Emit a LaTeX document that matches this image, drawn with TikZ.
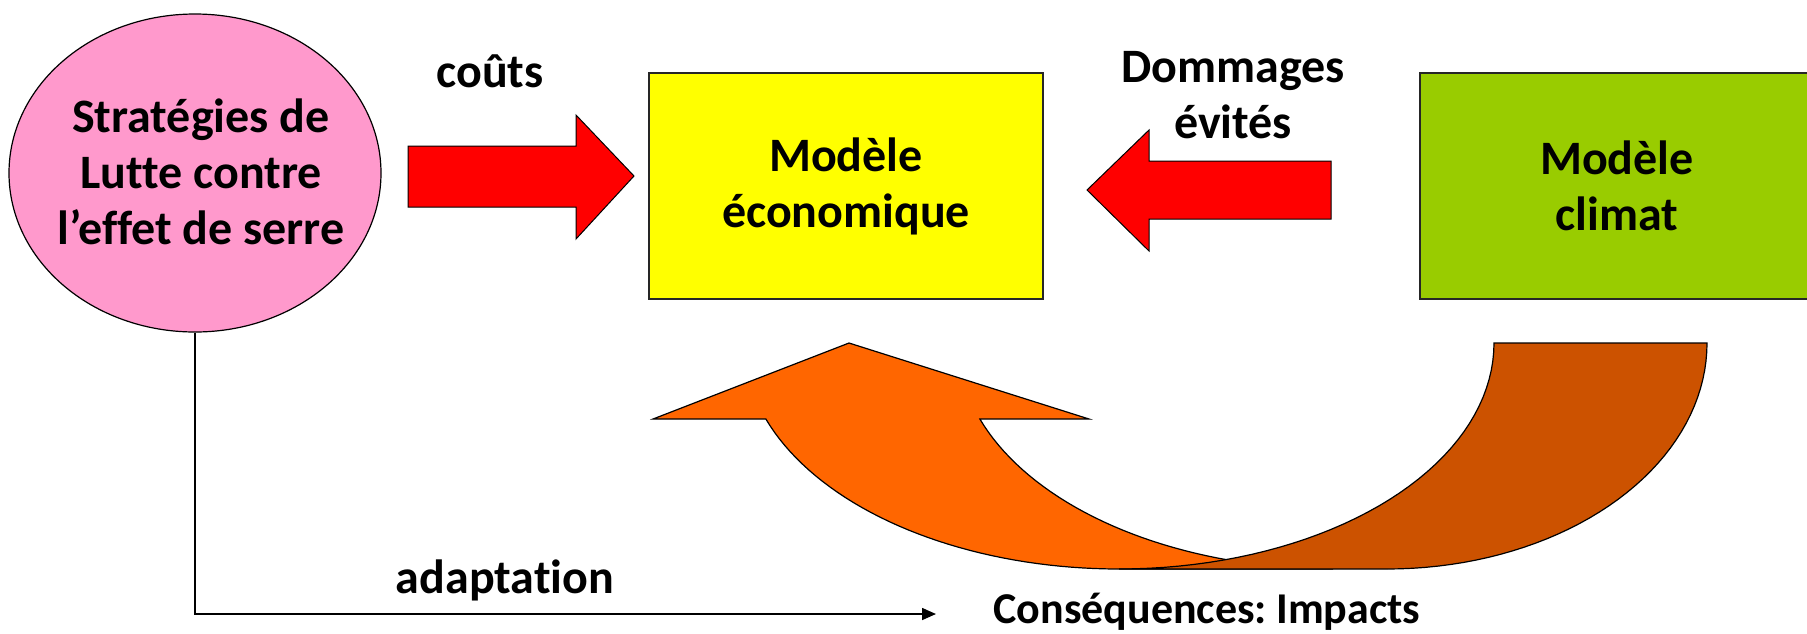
\documentclass[tikz,border=0pt]{standalone}
\usepackage{fontspec}
\setmainfont{Carlito}[Ligatures={NoCommon}]
\usetikzlibrary{shapes.geometric,arrows.meta}
\definecolor{pinkfill}{HTML}{FF99CC}
\definecolor{yellowfill}{HTML}{FFFF00}
\definecolor{greenfill}{HTML}{99CC00}
\definecolor{redfill}{HTML}{FF0000}
\definecolor{orangefront}{HTML}{FF6600}
\definecolor{orangeback}{HTML}{CC5200}
\begin{document}
\begin{tikzpicture}[x=0.5pt,y=-0.5pt,
  txt/.style={font=\bfseries\fontsize{24}{28}\selectfont, align=center, inner sep=0pt},
  modelbox/.style={txt, draw=black!85, line width=0.6pt, minimum width=197pt, minimum height=113pt},
  blockarrow/.style={fill=redfill, draw=black, line width=0.5pt, line join=miter},
  bandfront/.style={fill=orangefront, draw=black, line width=0.6pt, line join=miter},
  bandback/.style={fill=orangeback, draw=black, line width=0.6pt, line join=miter},
  link/.style={draw=black, line width=0.75pt, -{Triangle[length=7pt,width=6pt]}}
]
\useasboundingbox (0,0) rectangle (1807,633);
\clip (0,0) rectangle (1807,633);

% main blocks
\node[ellipse, draw=black, line width=0.6pt, fill=pinkfill, inner sep=0pt,
      minimum width=186pt, minimum height=159pt] (strat) at (195,173) {};
\node[txt] (strattext) at (201,172) {Stratégies de\\Lutte contre\\l’effet de serre};
\node[modelbox, fill=yellowfill] (eco) at (846,186) {Modèle\\économique};
\node[modelbox, fill=greenfill] (clim) at (1617,186) {Modèle\\climat};

% block arrows
\draw[blockarrow] (408,146) -- (576,146) -- (576,115) -- (634,176)
  -- (576,239) -- (576,207) -- (408,207) -- cycle;
\draw[blockarrow] (1331,161) -- (1149,161) -- (1149,130) -- (1087,190)
  -- (1149,251) -- (1149,219) -- (1331,219) -- cycle;

% curved arrow: front band with head, then back band
\draw[bandfront] (849,343) -- (1089,419) -- (980,419)
  -- plot[domain=160.35:90, samples=40] ({1333+375*cos(\x)},{343+226*sin(\x)})
  -- (1119,569)
  -- plot[domain=90:160.35, samples=40] ({1119+375*cos(\x)},{343+226*sin(\x)})
  -- (653,419) -- cycle;
\draw[bandback] (1494,343) -- (1707,343)
  -- plot[domain=0:90, samples=40] ({1387+320*cos(\x)},{343+226*sin(\x)})
  -- (1119,569)
  -- plot[domain=90:0, samples=40] ({1119+375*cos(\x)},{343+226*sin(\x)})
  -- cycle;

% labels
\node[txt] (couts) at (490,71) {coûts};
\node[txt] (dommages) at (1233,95) {Dommages\\évités};
\node[txt] (adapt) at (505,580) {adaptation};
\node[txt, font=\bfseries\fontsize{22}{26}\selectfont] (cons) at (1207,612) {Conséquences:\kern-2pt{} Impacts};

% adaptation link
\coordinate (consin) at (936,614);
\draw[link] (strat.south) |- (consin);
\end{tikzpicture}
\end{document}
